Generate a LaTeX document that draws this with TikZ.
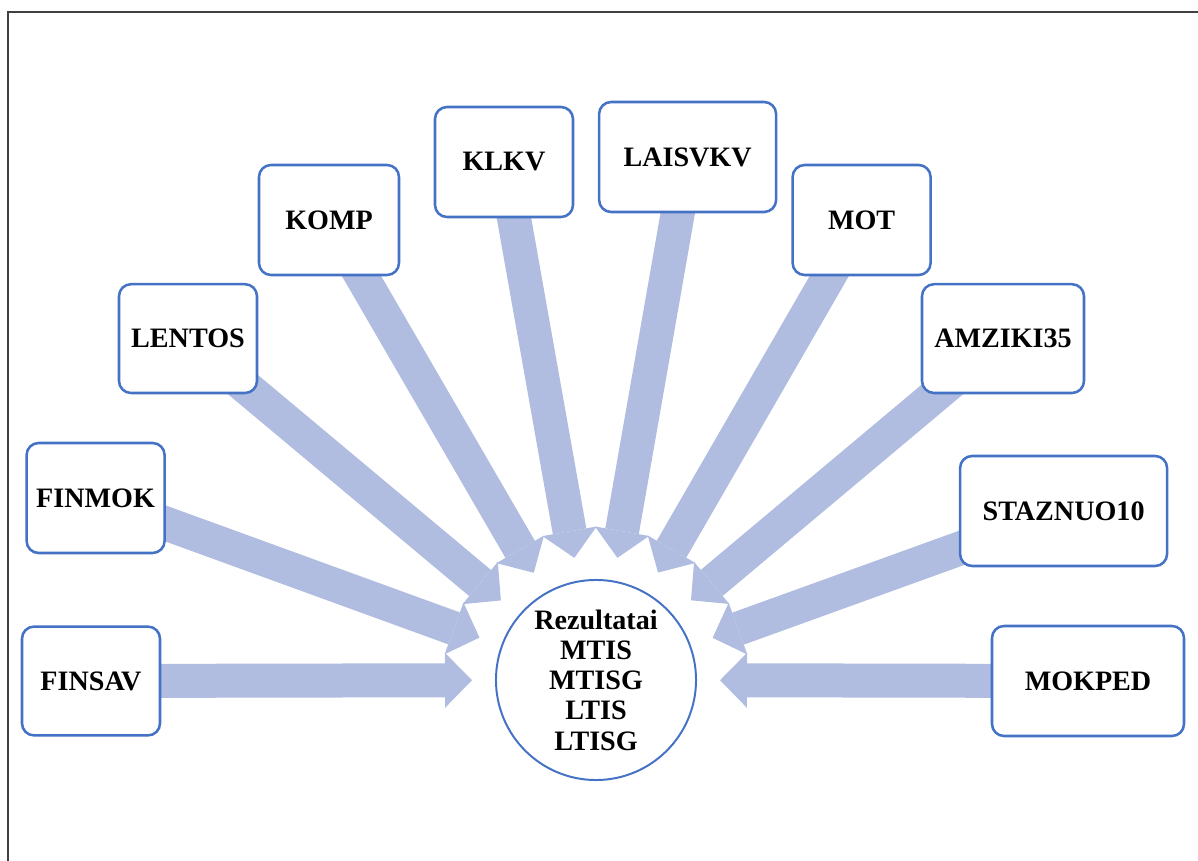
\documentclass[tikz,border=0pt]{standalone}
\usepackage{fontspec}
\setmainfont{Liberation Serif}
\usetikzlibrary{arrows.meta,positioning}
\definecolor{boxblue}{RGB}{68,114,196}
\definecolor{arrowblue}{RGB}{176,189,224}
\definecolor{framegray}{RGB}{64,64,64}
\tikzstyle{varbox} = [draw=boxblue, line width=1.8pt, fill=white, rounded corners=0.3cm, minimum width=3.45cm, minimum height=2.72cm, font=\bfseries\fontsize{20}{21.5}\selectfont]
\tikzstyle{flowarrow} = [line width=0.85cm, color=arrowblue, -{Triangle[length=0.675cm,width=1.375cm,line width=0pt]}, shorten >=0.575cm]
\pgfdeclarelayer{bg}
\pgfsetlayers{bg,main}

\begin{document}
\begin{tikzpicture}
\useasboundingbox (0,0) rectangle (29.95,21.525);

% Frame
\draw[framegray, line width=1.4pt] (29.95,21.225) -- (0.2,21.225) -- (0.2,0);

% Result circle
\node[circle, draw=boxblue, line width=1.4pt, fill=white, minimum size=4.9cm, align=center,
      font=\bfseries\fontsize{20}{21.5}\selectfont] (res) at (14.9,4.525)
      {Rezultatai\\MTIS\\MTISG\\LTIS\\LTISG};

% Variables
\node[varbox] (finsav) at (2.275,4.5) {FINSAV};
\node[varbox, minimum height=2.75cm] (finmok) at (2.39,9.075) {FINMOK};
\node[varbox] (lentos) at (4.7,13.06) {LENTOS};
\node[varbox, minimum width=3.5cm, minimum height=2.75cm] (komp) at (8.225,16.025) {KOMP};
\node[varbox, minimum height=2.75cm] (klkv) at (12.6,17.475) {KLKV};
\node[varbox, minimum width=4.425cm, minimum height=2.75cm] (laisvkv) at (17.19,17.6) {LAISVKV};
\node[varbox, minimum height=2.75cm] (mot) at (21.54,16.025) {MOT};
\node[varbox, minimum width=4.05cm] (amziki) at (25.075,13.06) {AMZIKI35};
\node[varbox, minimum width=5.175cm, minimum height=2.75cm] (staz) at (26.59,8.75) {STAZNUO10};
\node[varbox, minimum width=4.8cm, minimum height=2.75cm] (mokped) at (27.2,4.5) {MOKPED};

% Arrows
\begin{pgfonlayer}{bg}
\foreach \src in {finsav,finmok,lentos,komp,klkv,laisvkv,mot,amziki,staz,mokped}
  \draw[flowarrow] (\src.center) -- (res);
\end{pgfonlayer}
\end{tikzpicture}
\end{document}
